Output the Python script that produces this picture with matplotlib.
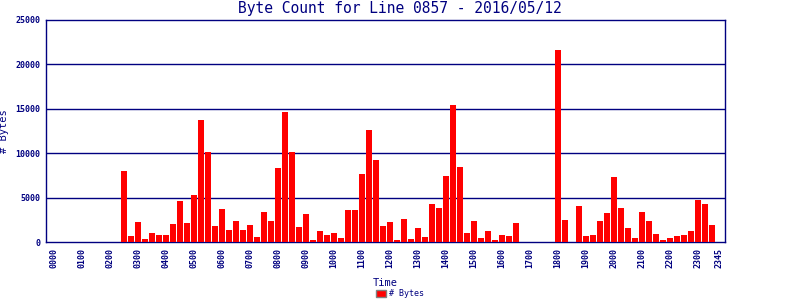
import numpy as np
import matplotlib
matplotlib.use("Agg")
import matplotlib.pyplot as plt
from matplotlib.patches import Patch

# 15-minute bins, 0000 .. 2345
times = ["%02d%02d" % (h, m) for h in range(24) for m in (0, 15, 30, 45)]
byte_counts = [
    0, 0, 0, 0, 0, 0, 0, 0, 0, 0,                    # 0000-0215
    8030, 710, 2290, 370, 1050, 820, 820, 2060,      # 0230-0415
    4650, 2170, 5330, 13770, 10170, 1840, 3750, 1390,  # 0430-0615
    2400, 1390, 1950, 600, 3410, 2400, 8370, 14670,  # 0630-0815
    10170, 1720, 3190, 260, 1270, 820, 1050, 480,    # 0830-1015
    3640, 3640, 7690, 12650, 9270, 1840, 2290, 260,  # 1030-1215
    2620, 370, 1610, 600, 4310, 3860, 7470, 15460,   # 1230-1415
    8480, 1050, 2400, 480, 1270, 260, 820, 710,      # 1430-1615
    2170, 0, 0, 0, 0, 0, 21650, 2510,                # 1630-1815
    0, 4090, 710, 820, 2400, 3300, 7350, 3860,       # 1830-2015
    1610, 480, 3410, 2400, 940, 260, 480, 710,       # 2030-2215
    820, 1270, 4760, 4310, 1950, 0,                  # 2230-2345
]
tick_idx = list(range(0, 96, 4)) + [95]
tick_labels = [times[i] for i in tick_idx]
y_ticks = [0, 5000, 10000, 15000, 20000, 25000]

navy = "#000080"
mono = "DejaVu Sans Mono"

fig = plt.figure(figsize=(8, 3), dpi=100)
ax = fig.add_axes([46 / 800, 1 - 242 / 300, 679 / 800, 222 / 300])

x = np.arange(len(byte_counts))
ax.bar(x, byte_counts, width=0.86, color="#ff0000", linewidth=0, zorder=3)

ax.set_xlim(-1.14, 95.86)
ax.set_ylim(0, 25000)
ax.set_yticks(y_ticks)
ax.set_yticklabels([str(v) for v in y_ticks], family=mono, fontsize=6, color=navy,
                   fontweight="bold")
ax.set_xticks(tick_idx)
ax.set_xticklabels(tick_labels, rotation=90, family=mono, fontsize=6, color=navy,
                   fontweight="bold")
ax.tick_params(axis="both", length=0)
ax.tick_params(axis="x", pad=4)
ax.tick_params(axis="y", pad=4)

for v in y_ticks[1:-1]:
    ax.axhline(v, color=navy, lw=1.0, zorder=2)
for s in ax.spines.values():
    s.set_color(navy)
    s.set_linewidth(1.0)

ax.set_xlabel("Time", family=mono, fontsize=7.5, color=navy)
ax.xaxis.set_label_coords((385 - 46) / 679, -(278 - 242) / 222)
ax.set_ylabel("# Bytes", family=mono, fontsize=7.5, color=navy)
ax.yaxis.set_label_coords(-(46 - 9) / 679, 0.5)

fig.text(0.5, 0.972, "Byte Count for Line 0857 - 2016/05/12", ha="center", va="center",
         family=mono, fontsize=10.5, color=navy)

fig.legend(handles=[Patch(facecolor="#ff0000", edgecolor="#808080", label="# Bytes")],
           loc="lower center", bbox_to_anchor=(0.5, -0.02), frameon=False,
           prop={"family": mono, "size": 6}, labelcolor=navy,
           handlelength=1.2, handleheight=0.9, handletextpad=0.3)

fig.savefig("out.png", dpi=100)
